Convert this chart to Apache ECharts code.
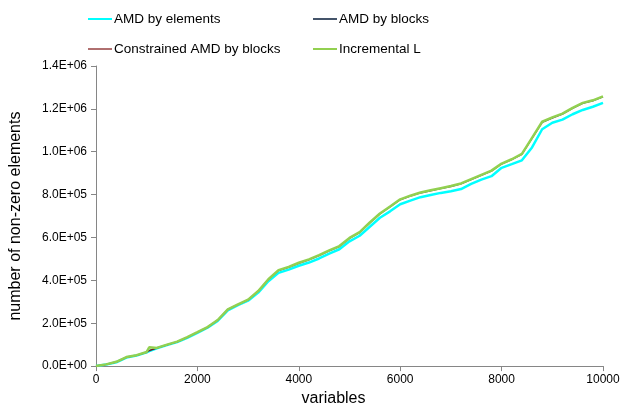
<!DOCTYPE html>
<html><head><meta charset="utf-8">
<script src="https://cdn.jsdelivr.net/npm/echarts@6/dist/echarts.min.js"></script>
<style>html,body{margin:0;padding:0;background:#fff}#c{width:625px;height:412px}</style>
</head><body><div id="c"></div>
<script>
var variables = [0,200,400,600,800,1000,1050,1200,1400,1600,1800,2000,2200,2400,2600,2800,3000,3200,3400,3600,3800,4000,4200,4400,4600,4800,5000,5200,5400,5600,5800,6000,6200,6400,6600,6800,7000,7200,7400,7600,7800,8000,8200,8400,8600,8800,9000,9200,9400,9600,9800,10000];
var amdByElements = [0,7000,18000,40000,49000,64000,70000,83000,98000,112000,132000,155000,179000,211000,260000,284000,305000,343000,396000,435000,450000,468000,483000,502000,525000,545000,582000,608000,650000,692000,722000,755000,772000,788000,798000,808000,816000,826000,850000,870000,886000,925000,942000,960000,1020000,1105000,1135000,1150000,1175000,1195000,1210000,1228000];
var amdByBlocks = [0,8000,19000,41000,50000,65000,72000,84000,99000,113000,134000,157000,181000,214000,264000,287000,309000,349000,404000,446000,461000,480000,496000,516000,538000,558000,596000,623000,668000,710000,743000,776000,793000,808000,818000,828000,838000,850000,870000,890000,910000,943000,963000,988000,1062000,1137000,1157000,1176000,1203000,1226000,1238000,1256000];
var constrainedAmdByBlocks = [0,8000,19500,41500,50500,65500,73000,84500,99500,113500,134500,157500,181500,214500,264500,287500,309500,349500,404500,447000,462000,481000,497000,517000,539000,559000,597000,624000,669000,711000,744000,777000,794000,809000,819000,829000,839000,851000,871000,891000,911000,944000,964000,989000,1063000,1138000,1158000,1177000,1204000,1227000,1239000,1257000];
var incrementalL = [0,8000,20000,42000,51000,66000,88000,85000,100000,114000,135000,158000,182000,215000,265000,288000,310000,350000,405000,448000,463000,482000,498000,518000,540000,560000,598000,625000,670000,712000,745000,778000,795000,810000,820000,830000,840000,852000,872000,892000,912000,945000,965000,990000,1065000,1140000,1160000,1178000,1205000,1228000,1240000,1258000];
var seriesNames = ['AMD by elements','AMD by blocks','Constrained AMD by blocks','Incremental L'];
var seriesColors = ['#00FFFF','#44546A','#7B1010','#92D050'];
var seriesWidths = [2.5,1.5,1,2.5];
var seriesValues = [amdByElements, amdByBlocks, constrainedAmdByBlocks, incrementalL];

function sci(v){
  if (v === 0) return '0.0E+00';
  var e = Math.floor(Math.log10(Math.abs(v)) + 1e-9);
  var m = v / Math.pow(10, e);
  return m.toFixed(1) + 'E' + (e >= 0 ? '+' : '-') + (Math.abs(e) < 10 ? '0' : '') + Math.abs(e);
}

var font = 'Liberation Sans, Arial, sans-serif';
var legendPos = [[83,7],[308,7],[83,37],[308,37]];
var legends = seriesNames.map(function(n,i){
  return {left: legendPos[i][0], top: legendPos[i][1], data:[n], icon:'rect', itemWidth:24, itemHeight: i===2?1.2:2, itemGap:0,
    textStyle:{fontFamily:font, fontSize:13.5, color:'#000', padding:[0,0,0,-3]}, selectedMode:false};
});

var series = seriesNames.map(function(n,i){
  return {name:n, type:'line', showSymbol:false, symbol:'none', animation:false,
    data: variables.map(function(x,j){ return [x, seriesValues[i][j]]; }),
    lineStyle:{color:seriesColors[i], width:seriesWidths[i]}, itemStyle:{color:seriesColors[i]}, z: 2+i};
});

var chart = echarts.init(document.getElementById('c'), null, {renderer:'canvas'});
chart.setOption({
  animation:false,
  backgroundColor:'#fff',
  legend: legends,
  grid:{left:96, right:22, top:66, bottom:45, containLabel:false},
  xAxis:{type:'value', min:0, max:10000, interval:2000,
    name:'variables', nameLocation:'middle', nameGap:24,
    nameTextStyle:{fontFamily:font, fontSize:16, color:'#000', padding:[0,32,0,0]},
    axisLine:{lineStyle:{color:'#868686', width:1}}, axisTick:{show:true, length:5, lineStyle:{color:'#868686'}},
    axisLabel:{fontFamily:font, fontSize:12, color:'#000', margin:8, formatter:function(v){return String(v);}},
    splitLine:{show:false}},
  yAxis:{type:'value', min:0, max:1400000, interval:200000,
    name:'number of non-zero elements', nameLocation:'middle', nameGap:72, nameRotate:90,
    nameTextStyle:{fontFamily:font, fontSize:16, color:'#000'},
    axisLine:{show:true, lineStyle:{color:'#868686', width:1}}, axisTick:{show:true, length:5, lineStyle:{color:'#868686'}},
    axisLabel:{fontFamily:font, fontSize:12, color:'#000', margin:9, formatter:function(v){return sci(v);}},
    splitLine:{show:false}},
  series: series
});
</script></body></html>
